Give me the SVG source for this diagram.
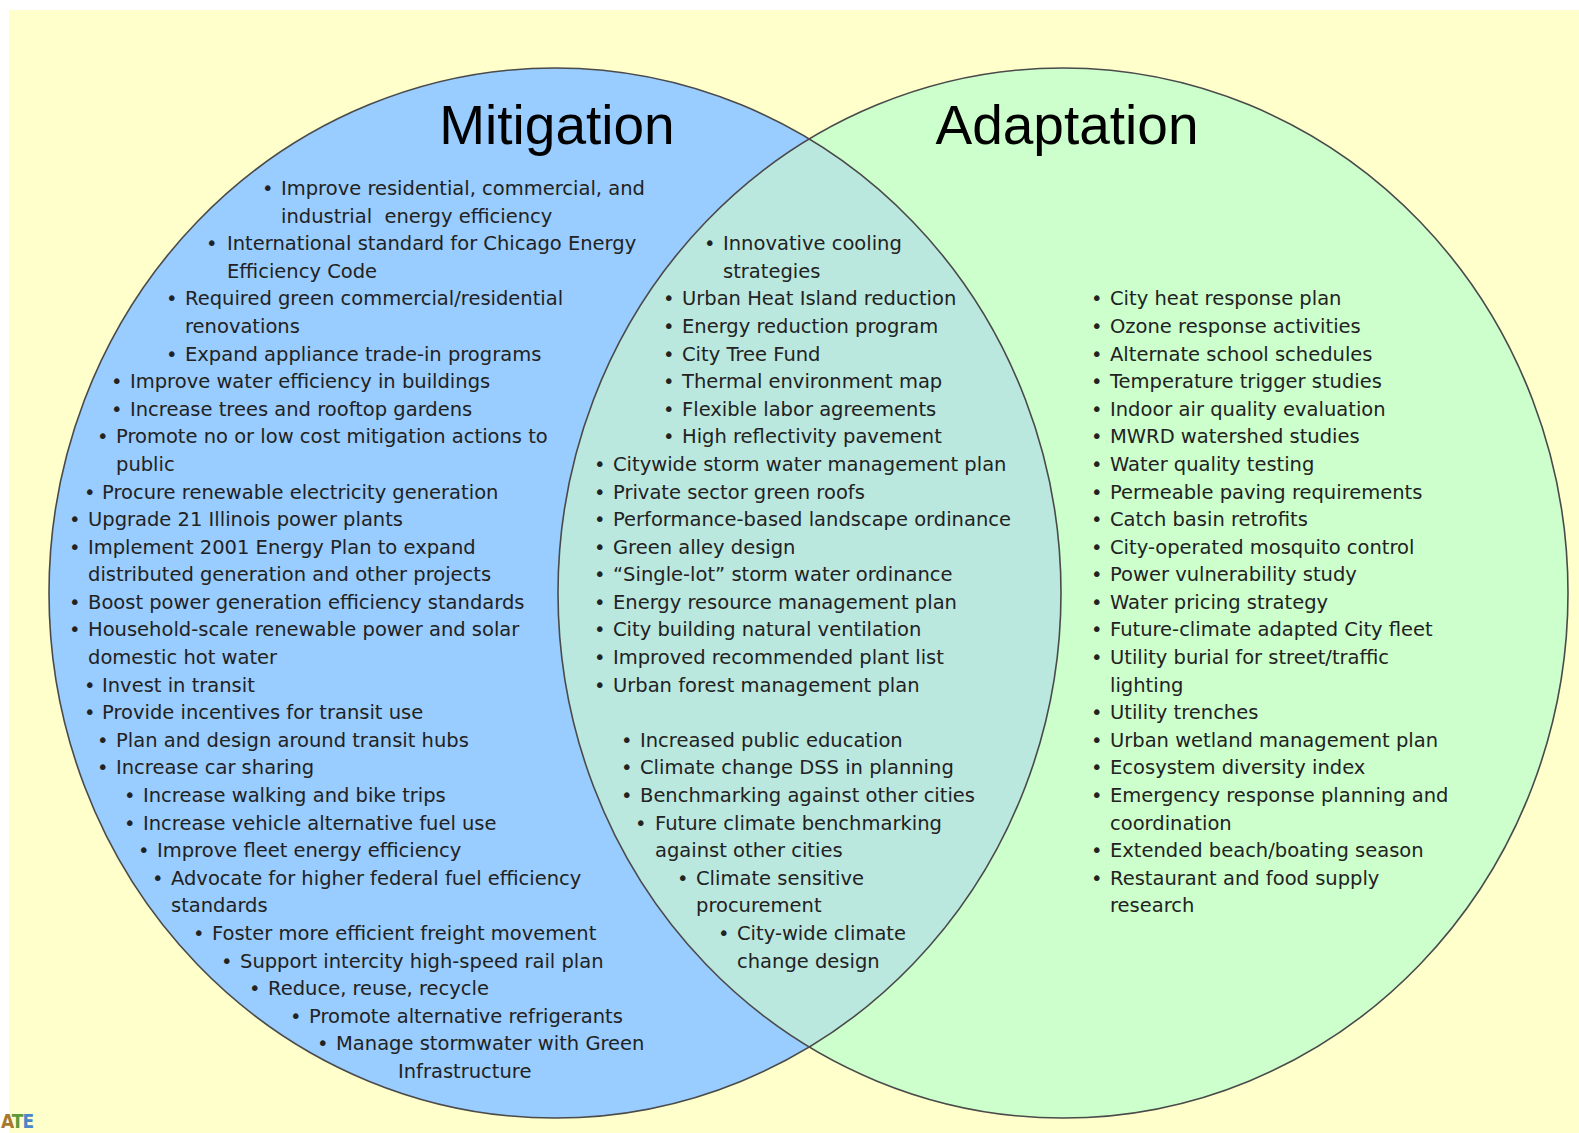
<svg xmlns="http://www.w3.org/2000/svg" width="1579" height="1133" viewBox="0 0 1579 1133">
<defs>
<style>
.t{font-family:"DejaVu Sans","Liberation Sans",sans-serif;font-size:19.5px;fill:#222}
.h{font-family:"Liberation Sans",Arial,sans-serif;font-size:55px;fill:#000;text-anchor:middle}
.edge{fill:none;stroke:#4a4a4a;stroke-width:1.6}
</style>
<clipPath id="clipR"><ellipse cx="1063" cy="593" rx="505" ry="525"/></clipPath>
</defs>
<rect x="0" y="0" width="1579" height="1133" fill="#ffffff"/>
<rect x="9" y="10" width="1570" height="1123" fill="#FFFFCC"/>
<g id="mitigation">
<ellipse cx="555" cy="593" rx="506" ry="525" fill="#99CCFF"/>
</g>
<g id="adaptation">
<ellipse cx="1063" cy="593" rx="505" ry="525" fill="#CCFFCC"/>
</g>
<g id="overlap">
<ellipse cx="555" cy="593" rx="506" ry="525" fill="#BAE8DF" clip-path="url(#clipR)"/>
</g>
<g id="outlines">
<ellipse class="edge" cx="555" cy="593" rx="506" ry="525"/>
<ellipse class="edge" cx="1063" cy="593" rx="505" ry="525"/>
</g>
<g id="connectors"></g>
<g id="titles">
<text class="h" x="557" y="144">Mitigation</text>
<text class="h" x="1067" y="144">Adaptation</text>
</g>
<g id="mitigation-items">
<text class="t" y="195"><tspan x="262">•</tspan><tspan x="281">Improve residential, commercial, and</tspan></text>
<text class="t" y="222.6" x="281" xml:space="preserve">industrial  energy efficiency</text>
<text class="t" y="250.2"><tspan x="206">•</tspan><tspan x="227">International standard for Chicago Energy</tspan></text>
<text class="t" y="277.8" x="227">Efficiency Code</text>
<text class="t" y="305.4"><tspan x="166">•</tspan><tspan x="185">Required green commercial/residential</tspan></text>
<text class="t" y="333.0" x="185">renovations</text>
<text class="t" y="360.6"><tspan x="166">•</tspan><tspan x="185">Expand appliance trade-in programs</tspan></text>
<text class="t" y="388.1"><tspan x="111">•</tspan><tspan x="130">Improve water efficiency in buildings</tspan></text>
<text class="t" y="415.7"><tspan x="111">•</tspan><tspan x="130">Increase trees and rooftop gardens</tspan></text>
<text class="t" y="443.3"><tspan x="97">•</tspan><tspan x="116">Promote no or low cost mitigation actions to</tspan></text>
<text class="t" y="470.9" x="116">public</text>
<text class="t" y="498.5"><tspan x="84">•</tspan><tspan x="102">Procure renewable electricity generation</tspan></text>
<text class="t" y="526.1"><tspan x="69">•</tspan><tspan x="88">Upgrade 21 Illinois power plants</tspan></text>
<text class="t" y="553.7"><tspan x="69">•</tspan><tspan x="88">Implement 2001 Energy Plan to expand</tspan></text>
<text class="t" y="581.3" x="88">distributed generation and other projects</text>
<text class="t" y="608.9"><tspan x="69">•</tspan><tspan x="88">Boost power generation efficiency standards</tspan></text>
<text class="t" y="636.4"><tspan x="69">•</tspan><tspan x="88">Household-scale renewable power and solar</tspan></text>
<text class="t" y="664.0" x="88">domestic hot water</text>
<text class="t" y="691.6"><tspan x="84">•</tspan><tspan x="102">Invest in transit</tspan></text>
<text class="t" y="719.2"><tspan x="84">•</tspan><tspan x="102">Provide incentives for transit use</tspan></text>
<text class="t" y="746.8"><tspan x="97">•</tspan><tspan x="116">Plan and design around transit hubs</tspan></text>
<text class="t" y="774.4"><tspan x="97">•</tspan><tspan x="116">Increase car sharing</tspan></text>
<text class="t" y="802.0"><tspan x="124">•</tspan><tspan x="143">Increase walking and bike trips</tspan></text>
<text class="t" y="829.6"><tspan x="124">•</tspan><tspan x="143">Increase vehicle alternative fuel use</tspan></text>
<text class="t" y="857.2"><tspan x="138">•</tspan><tspan x="157">Improve fleet energy efficiency</tspan></text>
<text class="t" y="884.8"><tspan x="152">•</tspan><tspan x="171">Advocate for higher federal fuel efficiency</tspan></text>
<text class="t" y="912.3" x="171">standards</text>
<text class="t" y="939.9"><tspan x="193">•</tspan><tspan x="212">Foster more efficient freight movement</tspan></text>
<text class="t" y="967.5"><tspan x="221">•</tspan><tspan x="240">Support intercity high-speed rail plan</tspan></text>
<text class="t" y="995.1"><tspan x="249">•</tspan><tspan x="268">Reduce, reuse, recycle</tspan></text>
<text class="t" y="1022.7"><tspan x="290">•</tspan><tspan x="309">Promote alternative refrigerants</tspan></text>
<text class="t" y="1050.3"><tspan x="317">•</tspan><tspan x="336">Manage stormwater with Green</tspan></text>
<text class="t" y="1077.9" x="398">Infrastructure</text>
</g>
<g id="shared-items">
<text class="t" y="250.2"><tspan x="704">•</tspan><tspan x="723">Innovative cooling</tspan></text>
<text class="t" y="277.8" x="723">strategies</text>
<text class="t" y="305.4"><tspan x="663">•</tspan><tspan x="682">Urban Heat Island reduction</tspan></text>
<text class="t" y="333.0"><tspan x="663">•</tspan><tspan x="682">Energy reduction program</tspan></text>
<text class="t" y="360.6"><tspan x="663">•</tspan><tspan x="682">City Tree Fund</tspan></text>
<text class="t" y="388.1"><tspan x="663">•</tspan><tspan x="682">Thermal environment map</tspan></text>
<text class="t" y="415.7"><tspan x="663">•</tspan><tspan x="682">Flexible labor agreements</tspan></text>
<text class="t" y="443.3"><tspan x="663">•</tspan><tspan x="682">High reflectivity pavement</tspan></text>
<text class="t" y="470.9"><tspan x="594">•</tspan><tspan x="613">Citywide storm water management plan</tspan></text>
<text class="t" y="498.5"><tspan x="594">•</tspan><tspan x="613">Private sector green roofs</tspan></text>
<text class="t" y="526.1"><tspan x="594">•</tspan><tspan x="613">Performance-based landscape ordinance</tspan></text>
<text class="t" y="553.7"><tspan x="594">•</tspan><tspan x="613">Green alley design</tspan></text>
<text class="t" y="581.3"><tspan x="594">•</tspan><tspan x="613">“Single-lot” storm water ordinance</tspan></text>
<text class="t" y="608.9"><tspan x="594">•</tspan><tspan x="613">Energy resource management plan</tspan></text>
<text class="t" y="636.4"><tspan x="594">•</tspan><tspan x="613">City building natural ventilation</tspan></text>
<text class="t" y="664.0"><tspan x="594">•</tspan><tspan x="613">Improved recommended plant list</tspan></text>
<text class="t" y="691.6"><tspan x="594">•</tspan><tspan x="613">Urban forest management plan</tspan></text>
<text class="t" y="746.8"><tspan x="621">•</tspan><tspan x="640">Increased public education</tspan></text>
<text class="t" y="774.4"><tspan x="621">•</tspan><tspan x="640">Climate change DSS in planning</tspan></text>
<text class="t" y="802.0"><tspan x="621">•</tspan><tspan x="640">Benchmarking against other cities</tspan></text>
<text class="t" y="829.6"><tspan x="635">•</tspan><tspan x="655">Future climate benchmarking</tspan></text>
<text class="t" y="857.2" x="655">against other cities</text>
<text class="t" y="884.8"><tspan x="677">•</tspan><tspan x="696">Climate sensitive</tspan></text>
<text class="t" y="912.3" x="696">procurement</text>
<text class="t" y="939.9"><tspan x="718">•</tspan><tspan x="737">City-wide climate</tspan></text>
<text class="t" y="967.5" x="737">change design</text>
</g>
<g id="adaptation-items">
<text class="t" y="305.4"><tspan x="1091">•</tspan><tspan x="1110">City heat response plan</tspan></text>
<text class="t" y="333.0"><tspan x="1091">•</tspan><tspan x="1110">Ozone response activities</tspan></text>
<text class="t" y="360.6"><tspan x="1091">•</tspan><tspan x="1110">Alternate school schedules</tspan></text>
<text class="t" y="388.1"><tspan x="1091">•</tspan><tspan x="1110">Temperature trigger studies</tspan></text>
<text class="t" y="415.7"><tspan x="1091">•</tspan><tspan x="1110">Indoor air quality evaluation</tspan></text>
<text class="t" y="443.3"><tspan x="1091">•</tspan><tspan x="1110">MWRD watershed studies</tspan></text>
<text class="t" y="470.9"><tspan x="1091">•</tspan><tspan x="1110">Water quality testing</tspan></text>
<text class="t" y="498.5"><tspan x="1091">•</tspan><tspan x="1110">Permeable paving requirements</tspan></text>
<text class="t" y="526.1"><tspan x="1091">•</tspan><tspan x="1110">Catch basin retrofits</tspan></text>
<text class="t" y="553.7"><tspan x="1091">•</tspan><tspan x="1110">City-operated mosquito control</tspan></text>
<text class="t" y="581.3"><tspan x="1091">•</tspan><tspan x="1110">Power vulnerability study</tspan></text>
<text class="t" y="608.9"><tspan x="1091">•</tspan><tspan x="1110">Water pricing strategy</tspan></text>
<text class="t" y="636.4"><tspan x="1091">•</tspan><tspan x="1110">Future-climate adapted City fleet</tspan></text>
<text class="t" y="664.0"><tspan x="1091">•</tspan><tspan x="1110">Utility burial for street/traffic</tspan></text>
<text class="t" y="691.6" x="1110">lighting</text>
<text class="t" y="719.2"><tspan x="1091">•</tspan><tspan x="1110">Utility trenches</tspan></text>
<text class="t" y="746.8"><tspan x="1091">•</tspan><tspan x="1110">Urban wetland management plan</tspan></text>
<text class="t" y="774.4"><tspan x="1091">•</tspan><tspan x="1110">Ecosystem diversity index</tspan></text>
<text class="t" y="802.0"><tspan x="1091">•</tspan><tspan x="1110">Emergency response planning and</tspan></text>
<text class="t" y="829.6" x="1110">coordination</text>
<text class="t" y="857.2"><tspan x="1091">•</tspan><tspan x="1110">Extended beach/boating season</tspan></text>
<text class="t" y="884.8"><tspan x="1091">•</tspan><tspan x="1110">Restaurant and food supply</tspan></text>
<text class="t" y="912.3" x="1110">research</text>
</g>
<g id="logo">
<text x="1" y="1128" style="font-family:'DejaVu Sans Condensed','DejaVu Sans',sans-serif;font-size:19px;font-weight:bold;letter-spacing:-1px"><tspan fill="#A8782E">A</tspan><tspan fill="#5C9A3C">T</tspan><tspan fill="#4A86C8">E</tspan></text>
</g>
</svg>
